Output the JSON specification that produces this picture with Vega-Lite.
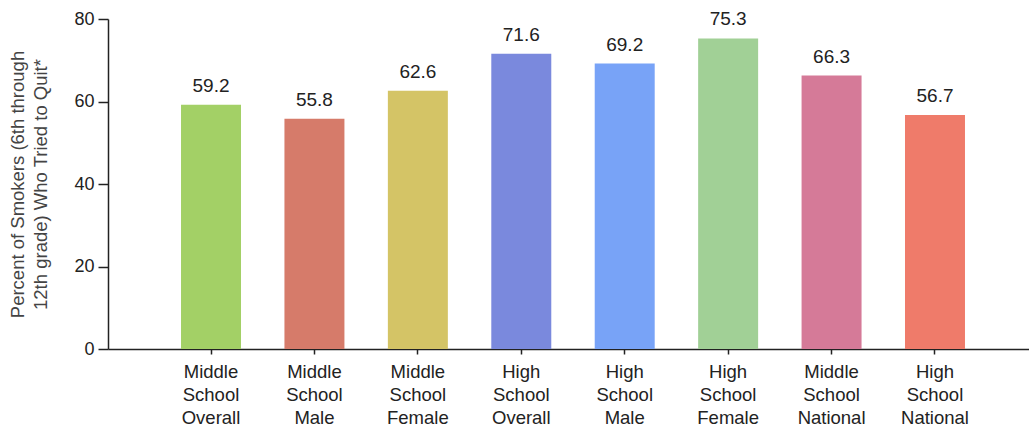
{
  "$schema": "https://vega.github.io/schema/vega-lite/v6.json",
  "autosize": "none",
  "padding": {"left": 108, "top": 19, "right": 0, "bottom": 81},
  "width": 921,
  "height": 330,
  "background": "white",
  "data": {"values": [
    {"group": "Middle School Overall", "value": 59.2},
    {"group": "Middle School Male", "value": 55.8},
    {"group": "Middle School Female", "value": 62.6},
    {"group": "High School Overall", "value": 71.6},
    {"group": "High School Male", "value": 69.2},
    {"group": "High School Female", "value": 75.3},
    {"group": "Middle School National", "value": 66.3},
    {"group": "High School National", "value": 56.7}
  ]},
  "config": {
    "view": {"stroke": null},
    "font": "Liberation Sans",
    "axis": {"domainColor": "#222", "tickColor": "#222", "domainWidth": 1.5, "tickWidth": 1.5, "labelColor": "#222", "labelFont": "Liberation Sans", "titleFont": "Liberation Sans"}
  },
  "encoding": {
    "x": {"field": "group", "type": "nominal", "sort": null,
      "scale": {"paddingInner": 0.42, "paddingOuter": 0.706, "range": [0, 930]},
      "axis": {"title": null, "labelAngle": 0, "labelFontSize": 18.5, "labelLineHeight": 23, "tickSize": 5, "labelPadding": 8, "labelExpr": "split(datum.value, ' ')", "labelBaseline": "top"}},
    "y": {"field": "value", "type": "quantitative",
      "scale": {"domain": [0, 80]},
      "axis": {"values": [0, 20, 40, 60, 80], "grid": false, "tickSize": 10, "labelFontSize": 18, "labelPadding": 4,
        "title": ["Percent of Smokers (6th through", "12th grade) Who Tried to Quit*"],
        "titleFontSize": 18.5, "titleFontWeight": "normal", "titleColor": "#444", "titleLineHeight": 23, "titlePadding": 23}}
  },
  "layer": [
    {"mark": {"type": "bar"},
      "encoding": {"color": {"field": "group", "type": "nominal", "legend": null,
        "scale": {"domain": ["Middle School Overall", "Middle School Male", "Middle School Female", "High School Overall", "High School Male", "High School Female", "Middle School National", "High School National"],
          "range": ["#a3d066", "#d67b6a", "#d4c466", "#7a89dd", "#78a3f7", "#a1d096", "#d57a98", "#ef7b6a"]}}}},
    {"mark": {"type": "text", "baseline": "alphabetic", "dy": -13, "fontSize": 19, "color": "#222"},
      "encoding": {"text": {"field": "value", "type": "quantitative", "format": ".1f"}}}
  ]
}
